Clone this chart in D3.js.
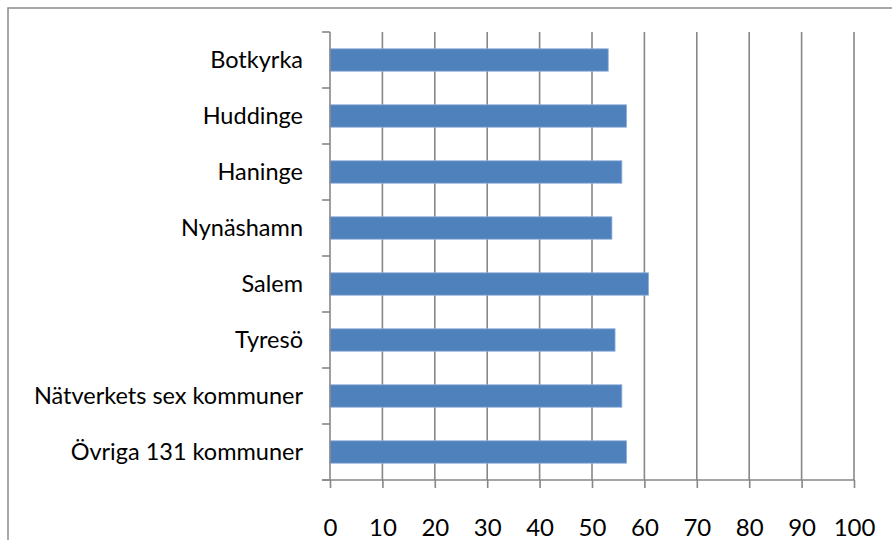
<!DOCTYPE html>
<html>
<head>
<meta charset="utf-8">
<script src="https://cdn.jsdelivr.net/npm/d3@7"></script>
<style>
  body { margin: 0; background: #fff; }
  svg { display: block; font-family: Lato, "Open Sans", sans-serif; }
</style>
</head>
<body>
<div id="chart"></div>
<script>
var categories = ["Botkyrka", "Huddinge", "Haninge", "Nynäshamn", "Salem", "Tyresö",
                  "Nätverkets sex kommuner", "Övriga 131 kommuner"];
var values = [53.1, 56.6, 55.7, 53.8, 60.8, 54.4, 55.7, 56.6];
var xTicks = [0, 10, 20, 30, 40, 50, 60, 70, 80, 90, 100];

var width = 892,
    height = 540;
var plot = { left: 330, right: 854, top: 32, bottom: 480 };
var gridColor = "#878787";

var svg = d3.select("#chart")
  .append("svg")
    .attr("width", width)
    .attr("height", height);

// outer chart border (runs off the right and bottom edge)
svg.append("rect")
  .attr("x", 8)
  .attr("y", 8)
  .attr("width", width + 20)
  .attr("height", height + 20)
  .attr("fill", "none")
  .attr("stroke", "#8c8c8c")
  .attr("stroke-width", 1.5);

var x = d3.scaleLinear()
  .domain([0, 100])
  .range([plot.left, plot.right]);

var y = d3.scaleBand()
  .domain(categories)
  .range([plot.top, plot.bottom])
  .paddingInner(0.6)
  .paddingOuter(0.3);

// vertical gridlines
svg.append("g")
  .selectAll("line")
  .data(xTicks.slice(1))
  .enter()
    .append("line")
    .attr("x1", function(d) { return x(d); })
    .attr("x2", function(d) { return x(d); })
    .attr("y1", plot.top)
    .attr("y2", plot.bottom)
    .attr("stroke", gridColor)
    .attr("stroke-width", 1.6);

// bars
svg.append("g")
  .selectAll("rect")
  .data(values)
  .enter()
    .append("rect")
    .attr("x", x(0))
    .attr("y", function(d, i) { return y(categories[i]); })
    .attr("width", function(d) { return x(d) - x(0); })
    .attr("height", y.bandwidth())
    .attr("fill", "#4f81bd")
    .attr("stroke", "#8fb0d9")
    .attr("stroke-width", 0.8);

// x axis
var xAxis = d3.axisBottom(x)
  .tickValues(xTicks)
  .tickSize(8)
  .tickSizeOuter(0)
  .tickPadding(31);

var gx = svg.append("g")
  .attr("transform", "translate(0," + plot.bottom + ")")
  .call(xAxis);
gx.select(".domain").remove();
gx.append("line")
  .attr("x1", plot.left - 8)
  .attr("x2", plot.right)
  .attr("stroke", gridColor)
  .attr("stroke-width", 1.6);
gx.selectAll(".tick line")
  .attr("stroke", gridColor)
  .attr("stroke-width", 1.6);
gx.selectAll(".tick text")
  .attr("fill", "#000")
  .attr("font-size", "24px")
  .attr("font-family", "Lato, 'Open Sans', sans-serif");

// y axis line with tick marks between categories
var boundaries = d3.range(categories.length + 1).map(function(i) {
  return plot.top + i * (plot.bottom - plot.top) / categories.length;
});

var gy = svg.append("g");
gy.append("line")
  .attr("x1", plot.left)
  .attr("x2", plot.left)
  .attr("y1", plot.top)
  .attr("y2", plot.bottom)
  .attr("stroke", gridColor)
  .attr("stroke-width", 1.6);
gy.selectAll("line.tick")
  .data(boundaries)
  .enter()
    .append("line")
    .attr("class", "tick")
    .attr("x1", plot.left - 8)
    .attr("x2", plot.left)
    .attr("y1", function(d) { return d; })
    .attr("y2", function(d) { return d; })
    .attr("stroke", gridColor)
    .attr("stroke-width", 1.6);

gy.selectAll("text")
  .data(categories)
  .enter()
    .append("text")
    .attr("x", plot.left - 27)
    .attr("y", function(d) { return y(d) + y.bandwidth() / 2; })
    .attr("dy", "0.36em")
    .attr("text-anchor", "end")
    .attr("font-size", "23.5px")
    .attr("fill", "#000")
    .text(function(d) { return d; });
</script>
</body>
</html>
